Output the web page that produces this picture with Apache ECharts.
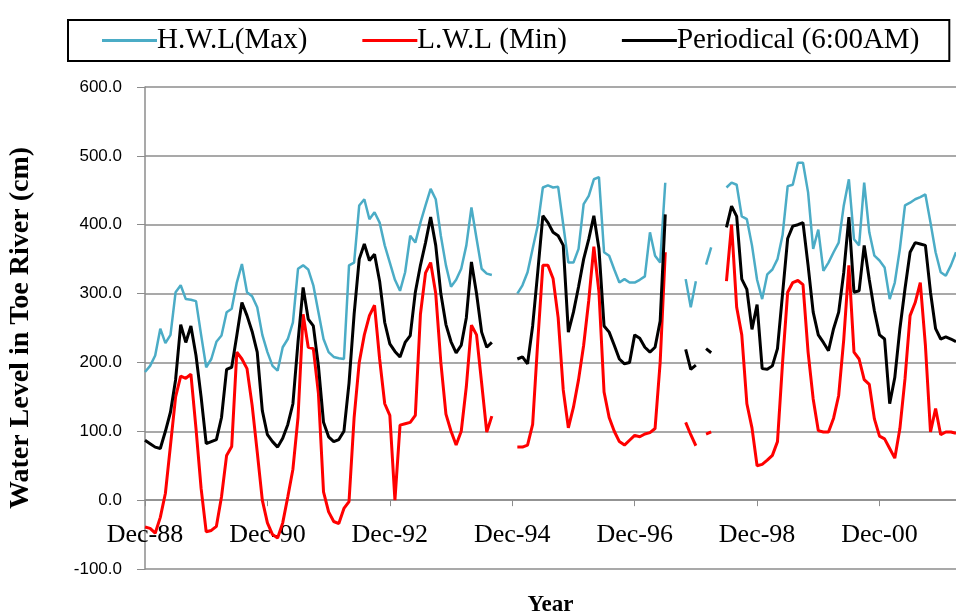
<!DOCTYPE html>
<html>
<head>
<meta charset="utf-8">
<script src="https://cdn.jsdelivr.net/npm/echarts@6/dist/echarts.min.js"></script>
<style>
  html, body { margin: 0; padding: 0; background: #fff; }
  #chart { width: 956px; height: 616px; }
</style>
</head>
<body>
<div id="chart"></div>
<script>
// monthly readings, Dec-88 onward (null = no record)
const hwl = [
  186, 195, 210, 249, 228, 240, 302, 312, 292, 291,
  289, 240, 193, 205, 230, 239, 273, 278, 316, 343,
  302, 296, 280, 240, 215, 195, 188, 222, 234, 258,
  336, 341, 335, 312, 273, 234, 215, 208, 206, 205,
  341, 345, 428, 437, 408, 418, 403, 370, 345, 320,
  304, 331, 384, 374, 403, 428, 452, 437, 384, 341,
  310, 320, 336, 370, 425, 380, 336, 329, 327, null,
  null, null, null, 300, 312, 331, 365, 399, 454, 457,
  454, 455, 400, 345, 345, 365, 430, 442, 466, 469,
  360, 355, 335, 316, 321, 316, 316, 320, 325, 389,
  355, 345, 461, null, null, null, 321, 280, 318, null,
  342, 367, null, null, 454, 461, 458, 412, 408, 370,
  320, 292, 328, 335, 350, 385, 456, 458, 490, 490,
  447, 365, 393, 333, 345, 360, 374, 428, 466, 379,
  370, 461, 389, 355, 348, 338, 292, 316, 365, 428,
  432, 437, 440, 444, 403, 360, 331, 326, 341, 360
];

const lwl = [
  -39, -41, -48, -25, 10, 80, 150, 180, 177, 183,
  104, 17, -46, -44, -38, 5, 65, 78, 215, 205,
  191, 138, 70, 0, -33, -50, -55, -33, 5, 45,
  120, 270, 222, 220, 155, 12, -17, -31, -34, -12,
  -2, 120, 200, 240, 268, 283, 205, 140, 123, 0,
  109, 111, 113, 123, 270, 330, 345, 300, 200, 125,
  100, 80, 100, 165, 254, 240, 170, 99, 122, null,
  null, null, null, 77, 77, 80, 110, 230, 341, 341,
  322, 265, 160, 105, 135, 175, 225, 290, 368, 302,
  157, 120, 100, 85, 80, 87, 94, 92, 96, 98,
  104, 200, 360, null, null, null, 113, 95, 79, null,
  96, 99, null, null, 318, 400, 280, 240, 140, 105,
  50, 52, 58, 65, 85, 200, 302, 316, 319, 313,
  215, 147, 101, 99, 99, 119, 152, 234, 341, 215,
  205, 175, 168, 118, 93, 89, 75, 61, 104, 176,
  268, 287, 316, 225, 99, 133, 95, 99, 99, 97
];

const periodical = [
  87, 82, 77, 75, 100, 128, 175, 255, 229, 253,
  210, 150, 82, 85, 88, 120, 190, 193, 239, 287,
  268, 245, 215, 130, 95, 85, 77, 90, 110, 140,
  230, 309, 263, 253, 195, 113, 92, 85, 88, 100,
  170, 270, 350, 372, 348, 357, 318, 258, 227, 216,
  208, 229, 239, 302, 341, 374, 411, 370, 300, 255,
  230, 214, 225, 265, 346, 300, 244, 222, 229, null,
  null, null, null, 205, 208, 198, 253, 331, 413, 403,
  389, 384, 370, 244, 273, 310, 350, 379, 413, 365,
  253, 244, 225, 205, 198, 200, 240, 235, 222, 215,
  222, 260, 415, null, null, null, 219, 190, 196, null,
  220, 214, null, null, 396, 427, 412, 321, 306, 248,
  284, 191, 190, 195, 220, 300, 380, 398, 400, 403,
  341, 273, 240, 229, 217, 249, 273, 331, 411, 302,
  304, 370, 320, 275, 240, 234, 140, 178, 249, 307,
  360, 374, 372, 370, 302, 249, 234, 237, 234, 230
];

const seriesNames = ['H.W.L(Max)', 'L.W.L (Min)', 'Periodical (6:00AM)'];
const seriesColors = ['#4bacc6', '#ff0000', '#000000'];

// month labels starting Dec-88
const monthAbbr = ['Jan', 'Feb', 'Mar', 'Apr', 'May', 'Jun', 'Jul', 'Aug', 'Sep', 'Oct', 'Nov', 'Dec'];
const months = hwl.map((_, i) => {
  const m = (11 + i) % 12;
  const y = 1988 + Math.floor((11 + i) / 12);
  return monthAbbr[m] + '-' + String(y % 100).padStart(2, '0');
});

const chart = echarts.init(document.getElementById('chart'), null, { renderer: 'canvas' });

const serif = 'Liberation Serif';

chart.setOption({
  animation: false,
  backgroundColor: '#ffffff',
  legend: {
    top: 20,
    left: 68,
    data: seriesNames,
    icon: 'rect',
    borderColor: '#000',
    borderWidth: 2,
    borderRadius: 0,
    padding: [6, 30, 6, 34],
    itemGap: 55,
    itemWidth: 55,
    itemHeight: 3,
    textStyle: { fontFamily: serif, fontSize: 29, color: '#000', padding: [0, 0, 0, -5] }
  },
  grid: { left: 145, right: 0, top: 87, bottom: 47, outerBoundsMode: 'none' },
  xAxis: {
    type: 'category',
    data: months,
    boundaryGap: false,
    name: 'Year',
    nameLocation: 'middle',
    nameGap: 25,
    nameTextStyle: { fontFamily: serif, fontSize: 23, fontWeight: 'bold', color: '#000' },
    axisLine: { onZero: true, lineStyle: { color: '#8c8c8c', width: 1.5 } },
    axisTick: { interval: 23, length: 6, lineStyle: { color: '#8c8c8c' } },
    axisLabel: {
      interval: 23,
      margin: -47,
      fontFamily: serif,
      fontSize: 26,
      color: '#000'
    },
    splitLine: { show: false }
  },
  yAxis: {
    type: 'value',
    min: -100,
    max: 600,
    interval: 100,
    name: 'Water Level in Toe River (cm)',
    nameLocation: 'middle',
    nameGap: 110,
    nameTextStyle: { fontFamily: serif, fontSize: 28, fontWeight: 'bold', color: '#000' },
    axisLine: { show: true, lineStyle: { color: '#8c8c8c', width: 1.5 } },
    axisTick: { show: true, length: 8, lineStyle: { color: '#8c8c8c' } },
    axisLabel: {
      margin: 23,
      formatter: v => v.toFixed(1),
      fontFamily: 'Liberation Sans',
      fontSize: 17,
      color: '#000'
    },
    splitLine: { lineStyle: { color: '#8c8c8c', width: 1.5 } }
  },
  series: [hwl, lwl, periodical].map((values, k) => ({
    name: seriesNames[k],
    type: 'line',
    data: values,
    symbol: 'none',
    connectNulls: false,
    color: seriesColors[k],
    lineStyle: { color: seriesColors[k], width: k === 0 ? 2.5 : 3 }
  }))
});
</script>
</body>
</html>
